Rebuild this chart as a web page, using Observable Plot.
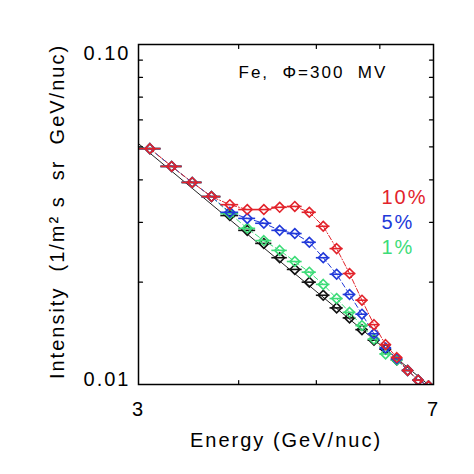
<!DOCTYPE html>
<html>
<head>
<meta charset="utf-8">
<script src="https://cdn.jsdelivr.net/npm/d3@7"></script>
<script src="https://cdn.jsdelivr.net/npm/@observablehq/plot@0.6"></script>
<style>
  body { margin: 0; background: white; }
  #chart svg text { letter-spacing: 2px; }
</style>
</head>
<body>
<div id="chart"></div>
<script>
// bin centres (GeV/nuc), each bin is +-0.1 wide
const energy = [3.1, 3.3, 3.5, 3.7, 3.9, 4.1, 4.3, 4.5, 4.7, 4.9, 5.1, 5.3, 5.5, 5.7, 5.9, 6.1, 6.3, 6.5, 6.7, 6.9]
const binHalfWidth = 0.1

const excess10 = [0.0494, 0.0438, 0.0393, 0.0357, 0.0338, 0.0327, 0.0327, 0.0332, 0.0334, 0.0321, 0.0292, 0.0251, 0.0212, 0.0177, 0.0150, 0.0131, 0.0120, 0.0110, 0.0103, 0.0099]
const excess5  = [0.0494, 0.0438, 0.0393, 0.0357, 0.0321, 0.0308, 0.0298, 0.0284, 0.0278, 0.0262, 0.0236, 0.0211, 0.0184, 0.0161, 0.0141, 0.0128, 0.0119, 0.0110, 0.0103, 0.0099]
const excess1  = [0.0494, 0.0438, 0.0393, 0.0357, 0.0318, 0.0288, 0.0265, 0.0248, 0.0230, 0.0214, 0.0197, 0.0179, 0.0163, 0.0149, 0.0136, 0.0123, 0.0118, 0.0110, 0.0103, 0.0099]
const noExcess = [0.0494, 0.0438, 0.0393, 0.0357, 0.0314, 0.0284, 0.0260, 0.0236, 0.0218, 0.0200, 0.0183, 0.0168, 0.0157, 0.0145, 0.0135, 0.0127, 0.0118, 0.0110, 0.0103, 0.0099]

// power-law model line
const modelEnergy = [3, 7]
const modelIntensity = [0.0511, 0.0097]

const seriesNames = ['0%', '1%', '5%', '10%']
const seriesColors = ['#111111', '#3ddc78', '#2139d9', '#e2232b']
const seriesDash = [null, '5,3', '5,3', '5,2,1,2']
const seriesValues = [noExcess, excess1, excess5, excess10]

const legendLabels = ['10%', '5%', '1%']
const legendColors = ['#e2232b', '#2139d9', '#3ddc78']

const yTicksMinor = [0.02, 0.03, 0.04, 0.05, 0.06, 0.07, 0.08, 0.09]
const xTicksMinor = [4, 5, 6]
const yTickLabels = [{v: 0.1, t: '0.10', a: 'top'}, {v: 0.01, t: '0.01', a: 'bottom'}]
const xTickLabels = [3, 7]

const model = modelEnergy.map((e, i) => ({E: e, I: modelIntensity[i]}))

let seriesMarks = []
seriesNames.forEach((name, k) => {
    const rows = energy.map((e, i) => ({E: e, I: seriesValues[k][i]}))
    const color = seriesColors[k]
    if (seriesDash[k]) {
        seriesMarks.push(Plot.line(rows, {x: 'E', y: 'I', stroke: color, strokeWidth: 1, strokeDasharray: seriesDash[k], clip: true}))
    }
    seriesMarks.push(Plot.ruleY(rows, {y: 'I', x1: d => d.E - binHalfWidth, x2: d => d.E + binHalfWidth, stroke: color, strokeWidth: 1.6, clip: true}))
    seriesMarks.push(Plot.dot(rows, {x: 'E', y: 'I', symbol: 'diamond2', r: 4.4, stroke: color, strokeWidth: 1.6, fill: 'none', clip: true}))
})

// little inward ticks on all four sides, IDL style
const tickLine = {draw(context, l) { context.moveTo(0, 0); context.lineTo(0, -l) }}
const tickOpts = {shape: tickLine, length: 4, anchor: 'start', stroke: 'black', strokeWidth: 1.2}
const tickMarks = [
    Plot.vector(xTicksMinor, {...tickOpts, x: d => d, frameAnchor: 'bottom', rotate: 0}),
    Plot.vector(xTicksMinor, {...tickOpts, x: d => d, frameAnchor: 'top', rotate: 180}),
    Plot.vector(yTicksMinor, {...tickOpts, y: d => d, frameAnchor: 'left', rotate: 90}),
    Plot.vector(yTicksMinor, {...tickOpts, y: d => d, frameAnchor: 'right', rotate: -90})
]

const legendMarks = legendLabels.map((t, i) =>
    Plot.text([t], {frameAnchor: 'top-right', textAnchor: 'start', lineAnchor: 'bottom', dx: -52, dy: 159 + 25 * i, fill: legendColors[i], fontSize: 20})
)

let chart = Plot.plot({
    width: 474,
    height: 474,
    marginLeft: 138,
    marginRight: 41,
    marginTop: 44,
    marginBottom: 90,
    x: {type: 'log', domain: [3, 7], axis: null},
    y: {type: 'log', domain: [0.01, 0.1], axis: null},
    style: {fontFamily: '"Liberation Sans", Arial, sans-serif', background: 'white', color: 'black'},
    marks: [
        Plot.line(model, {x: 'E', y: 'I', stroke: '#222', strokeWidth: 1, clip: true}),
        ...seriesMarks,
        Plot.frame({stroke: 'black', strokeWidth: 1.5}),
        ...tickMarks,
        Plot.text(yTickLabels.filter(d => d.a === 'top'), {y: 'v', text: 't', frameAnchor: 'left', textAnchor: 'end', lineAnchor: 'top', dx: -8, dy: 1, fontSize: 20}),
        Plot.text(yTickLabels.filter(d => d.a === 'bottom'), {y: 'v', text: 't', frameAnchor: 'left', textAnchor: 'end', lineAnchor: 'bottom', dx: -8, dy: 1, fontSize: 20}),
        Plot.text(xTickLabels, {x: d => d, text: d => String(d), frameAnchor: 'bottom', lineAnchor: 'top', dy: 17, fontSize: 20}),
        Plot.text(['Energy (GeV/nuc)'], {frameAnchor: 'bottom', lineAnchor: 'top', dy: 48, fontSize: 20}),
        Plot.text(['Intensity  (1/m² s  sr  GeV/nuc)'], {frameAnchor: 'left', textAnchor: 'middle', rotate: -90, lineAnchor: 'bottom', dx: -75, dy: -3, fontSize: 20}),
        Plot.text(['Fe,  Φ=300  MV'], {frameAnchor: 'top-left', textAnchor: 'start', lineAnchor: 'bottom', dx: 100, dy: 33, fontSize: 17}),
        ...legendMarks
    ]
})

d3.select('#chart').append(() => chart)
</script>
</body>
</html>
